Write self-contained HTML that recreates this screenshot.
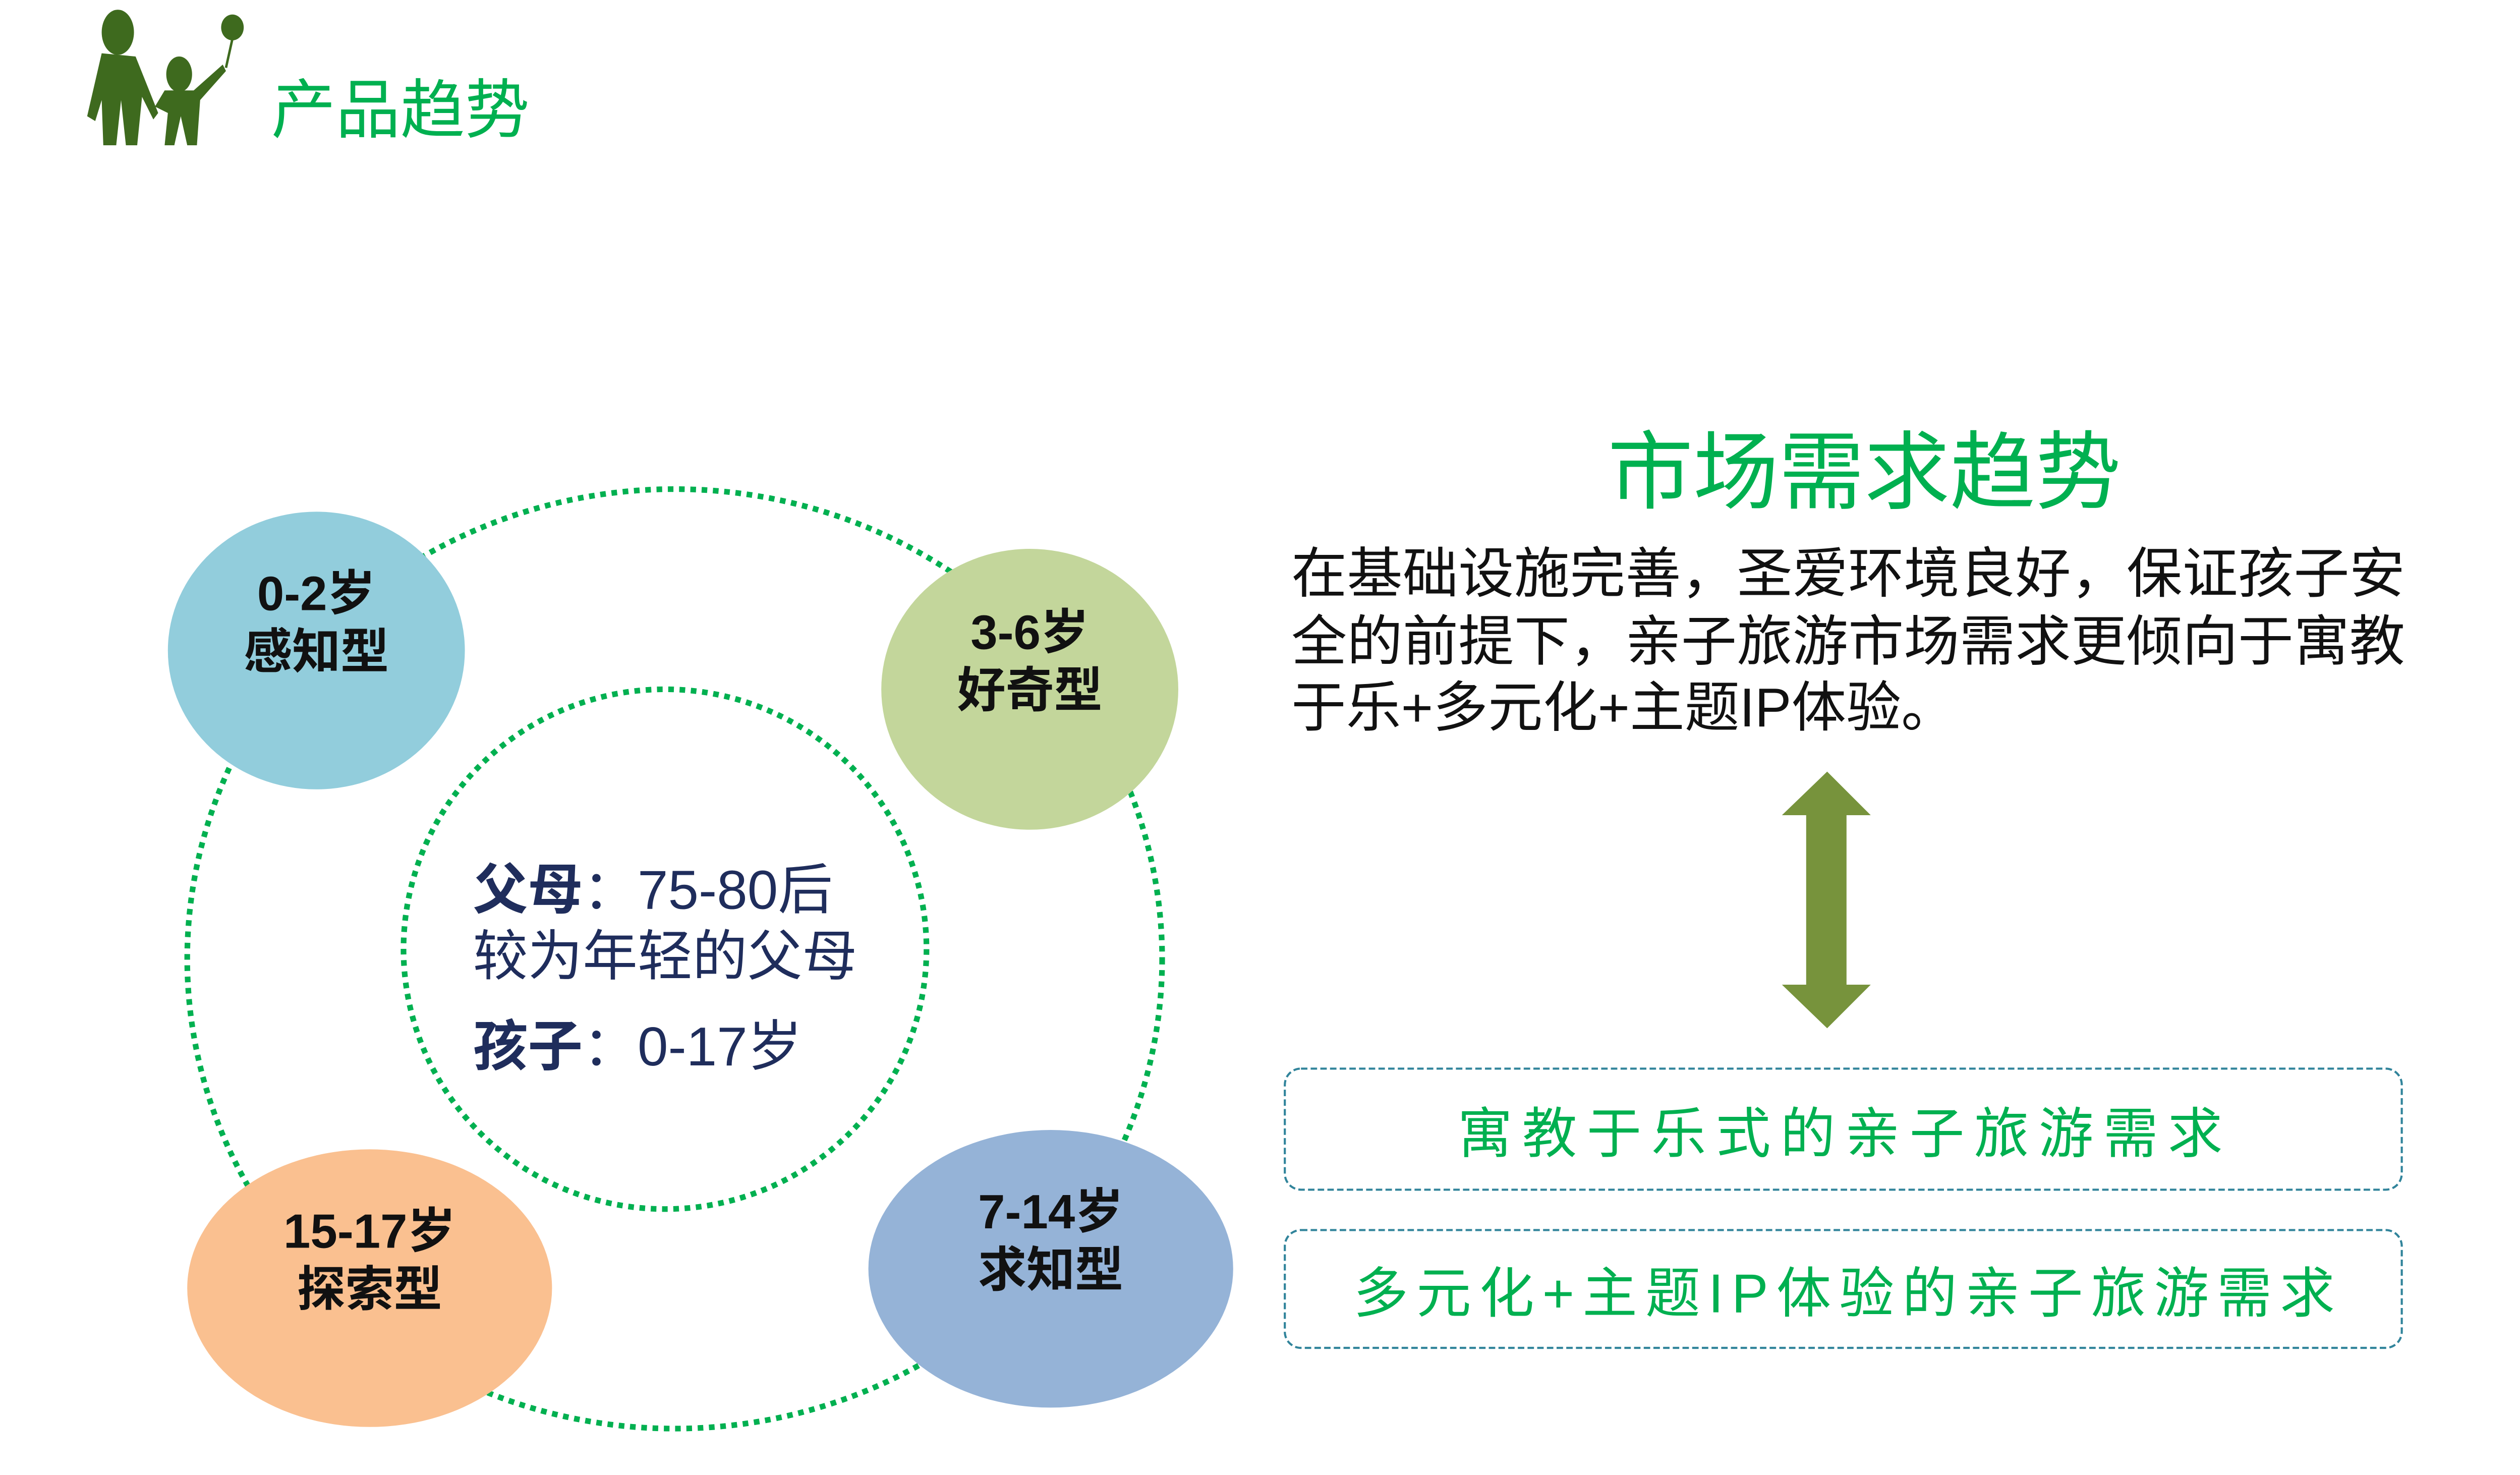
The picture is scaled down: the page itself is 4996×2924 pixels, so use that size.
<!DOCTYPE html>
<html><head><meta charset="utf-8"><style>
html,body{margin:0;padding:0;background:#fff;}
svg{display:block;}
text{font-family:"Liberation Sans","Noto Sans CJK SC",sans-serif;}
</style></head><body>
<svg width="4996" height="2924" viewBox="0 0 1561.25 913.75" xmlns="http://www.w3.org/2000/svg">
<!-- logo -->
<g fill="#3E6A1E">
<ellipse cx="73" cy="20" rx="10" ry="14"/>
<path d="M63 33 L84 35 L98 70 L95 74 L88 60 L85 90 L78 90 L75 62 L72 90 L64 90 L63 62 L59 75 L54 72 Z"/>
<ellipse cx="111" cy="46" rx="8" ry="11"/>
<path d="M102 56 L120 56 L138 40 L140 44 L124 62 L122 90 L116 90 L112 72 L108 90 L102 90 L104 70 L96 66 Z"/>
<ellipse cx="144" cy="17" rx="7" ry="8"/>
<path d="M144 24 L140 42" stroke="#3E6A1E" stroke-width="1.5" fill="none"/>
</g>
<text x="168" y="82" font-size="40" fill="#00B050">产品趋势</text>

<!-- circles -->
<ellipse cx="418" cy="594" rx="302" ry="291" fill="none" stroke="#00B050" stroke-width="3.5" stroke-dasharray="3.5 3.5"/>
<ellipse cx="412" cy="588" rx="162" ry="161" fill="none" stroke="#00B050" stroke-width="3.5" stroke-dasharray="3.5 3.5"/>

<ellipse cx="196" cy="403" rx="92" ry="86" fill="#92CDDC"/>
<ellipse cx="638" cy="427" rx="92" ry="87" fill="#C3D69B"/>
<ellipse cx="651" cy="786" rx="113" ry="86" fill="#95B3D7"/>
<ellipse cx="229" cy="798" rx="113" ry="86" fill="#FAC090"/>

<g font-size="30" font-weight="bold" fill="#111" text-anchor="middle">
<text x="196" y="378">0-2岁</text><text x="196" y="414">感知型</text>
<text x="638" y="402">3-6岁</text><text x="638" y="438">好奇型</text>
<text x="651" y="761">7-14岁</text><text x="651" y="797">求知型</text>
<text x="229" y="773">15-17岁</text><text x="229" y="809">探索型</text>
</g>

<g font-size="34" fill="#1F2D5C">
<text x="293" y="563"><tspan font-weight="bold">父母</tspan>：75-80后</text>
<text x="293" y="604">较为年轻的父母</text>
<text x="293" y="660"><tspan font-weight="bold">孩子</tspan>：0-17岁</text>
</g>

<text x="1155" y="311" font-size="53" fill="#00B050" text-anchor="middle">市场需求趋势</text>
<g font-size="34" fill="#111">
<text x="800" y="367" textLength="690" lengthAdjust="spacingAndGlyphs">在基础设施完善，圣爱环境良好，保证孩子安</text>
<text x="800" y="409" textLength="690" lengthAdjust="spacingAndGlyphs">全的前提下，亲子旅游市场需求更倾向于寓教</text>
<text x="800" y="450">于乐+多元化+主题IP体验。</text>
</g>

<!-- double arrow -->
<path d="M1132 478 L1159 505 L1144 505 L1144 610 L1159 610 L1132 637 L1104 610 L1119 610 L1119 505 L1104 505 Z" fill="#77933C"/>

<!-- boxes -->
<rect x="796" y="662" width="692" height="75" rx="10" fill="none" stroke="#31849B" stroke-width="1.3" stroke-dasharray="4 2"/>
<rect x="796" y="762" width="692" height="73" rx="10" fill="none" stroke="#31849B" stroke-width="1.3" stroke-dasharray="4 2"/>
<g font-size="34" fill="#00B050" text-anchor="middle" style="font-family:'Noto Serif CJK SC','Liberation Serif',serif">
<text x="1143" y="714" letter-spacing="6">寓教于乐式的亲子旅游需求</text>
<text x="1145" y="813" letter-spacing="5">多元化+主题IP体验的亲子旅游需求</text>
</g>
</svg>
</body></html>
